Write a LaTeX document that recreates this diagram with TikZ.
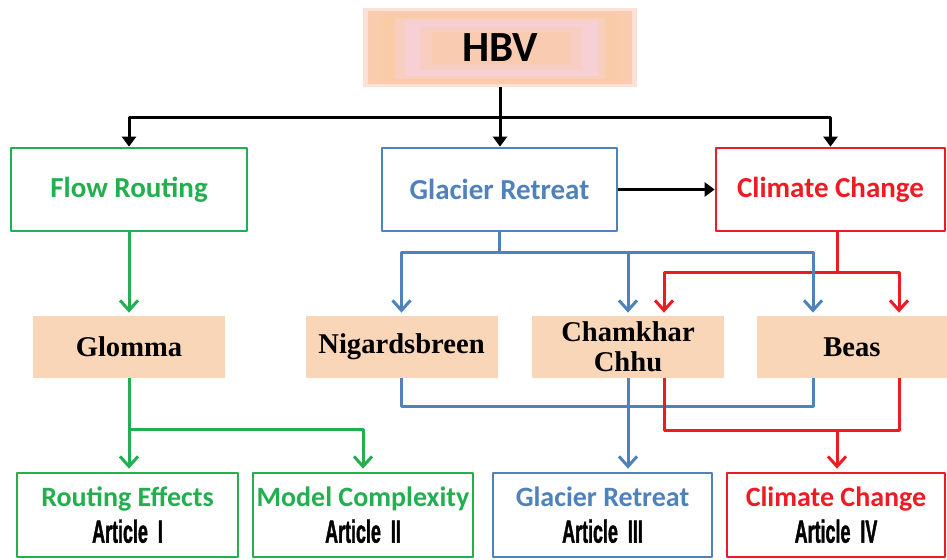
\documentclass[tikz,border=0pt]{standalone}
\usepackage{fontspec}
\setmainfont{Liberation Serif}
\newfontfamily\calfont{Carlito}
\newfontfamily\artfont[FakeStretch=0.56,FakeBold=1.2]{Liberation Sans}
\usepackage{tikz}
\usetikzlibrary{arrows.meta,calc}
\definecolor{hbvgreen}{RGB}{35,175,80}
\definecolor{hbvblue}{RGB}{79,129,189}
\definecolor{hbvred}{RGB}{237,28,36}
\definecolor{basintan}{RGB}{250,214,184}
\definecolor{hbvpink}{RGB}{247,208,214}
\definecolor{hbvorange}{RGB}{249,203,166}
\newcommand\artline[1]{{\artfont\bfseries\color{black}\fontsize{16}{16}\selectfont #1}}

\begin{document}
\begin{tikzpicture}[x=0.5pt,y=-0.5pt,line join=round,
  headbox/.style={draw,line width=1.35pt,fill=white,inner sep=0pt,minimum height=41.5pt,
    font=\calfont\bfseries\fontsize{14.5}{16}\selectfont},
  basin/.style={fill=basintan,inner sep=0pt,minimum width=96pt,minimum height=31pt,
    align=center,font=\bfseries\fontsize{14.3}{15}\selectfont},
  article/.style={draw,line width=1.35pt,fill=white,inner sep=0pt,minimum height=42pt,
    align=center,font=\calfont\bfseries\fontsize{14}{15}\selectfont},
  link/.style={line width=1.5pt},
  barb/.style={-{Straight Barb[length=5pt,width=9pt]},shorten >=1.5pt},
  blacktip/.style={-{Triangle[length=5pt,width=7pt]}}]
%\draw[help lines] (0,0) grid[step=50] (947,560);
\useasboundingbox (0,0) rectangle (947,560);

% HBV
\fill[hbvpink!50!hbvorange!60!white] (363,8) rectangle (637,87);
\fill[hbvorange!80!hbvpink] (368,11) rectangle (632,84);
\fill[hbvorange] (380,14) rectangle (620,81);
\fill[hbvorange!50!hbvpink] (395,18) rectangle (605,79);
\fill[hbvpink] (405,21) rectangle (598,76);
\fill[hbvorange!40!hbvpink] (420,27) rectangle (582,70);
\fill[hbvorange!75!hbvpink] (432,32) rectangle (570,64);
\node[font=\calfont\bfseries\fontsize{21.5}{21}\selectfont,inner sep=0pt,
  minimum width=137pt,minimum height=39.5pt] (hbv) at (500,47.5) {HBV};

\node[headbox,draw=hbvgreen,text=hbvgreen,minimum width=118pt] (flow) at (129,189.5) {Flow Routing};
\node[headbox,draw=hbvblue,text=hbvblue,minimum width=117.5pt] (glacier) at (499.5,189.5) {Glacier Retreat};
\node[headbox,draw=hbvred,text=hbvred,minimum width=114.5pt] (climate) at (830.5,189.5) {Climate Change};

\node[basin] (glomma) at (129,347) {Glomma};
\node[basin] (nigards) at (401.5,347) {Nigardsbreen};
\node[basin] (chamkhar) at (628,347) {Chamkhar\\Chhu};
\node[basin,minimum width=95pt] (beas) at (852,347) {Beas};

\node[article,draw=hbvgreen,text=hbvgreen,minimum width=110.5pt] (art1) at (127.5,515)
  {Routing Effects\\[3pt]\artline{Article\ \ I}};
\node[article,draw=hbvgreen,text=hbvgreen,minimum width=110pt] (art2) at (363,515)
  {Model Complexity\\[3pt]\artline{Article\ \ II}};
\node[article,draw=hbvblue,text=hbvblue,minimum width=109.5pt] (art3) at (602.5,515)
  {Glacier Retreat\\[3pt]\artline{Article\ \ III}};
\node[article,draw=hbvred,text=hbvred,minimum width=109pt] (art4) at (836,515)
  {Climate Change\\[3pt]\artline{Article\ \ IV}};

% black
\coordinate (top) at (500,118);
\draw[link,blacktip] (hbv.south) -- (hbv.south |- glacier.north);
\draw[link,blacktip] (top) -| (flow.north);
\draw[link,blacktip] (top) -| (climate.north);
\draw[link,blacktip] (glacier.east) -- (climate.west);

% green
\coordinate (gsplit) at (129,430);
\draw[link,hbvgreen,barb] (flow.south) -- (glomma.north);
\draw[link,hbvgreen,barb] (glomma.south) -- (glomma.south |- art1.north);
\draw[link,hbvgreen,barb] (gsplit) -| (art2.north);

% blue
\coordinate (bsplit) at (499.5,253);
\coordinate (bjoin) at (628,407);
\draw[link,hbvblue] (glacier.south) -- (bsplit);
\draw[link,hbvblue,barb] (bsplit) -| (nigards.north);
\draw[link,hbvblue,barb] (bsplit) -| (chamkhar.north);
\draw[link,hbvblue] (nigards.south) |- (bjoin) -| ($(beas.south)+(-39,0)$);
\draw[link,hbvblue,barb] (chamkhar.south) -- (chamkhar.south |- art3.north);

% red
\coordinate (rsplit) at (837,273);
\coordinate (rjoin) at (837,431);
\draw[link,hbvred] ($(climate.south)+(6.5,0)$) -- (rsplit);
\draw[link,hbvred,barb] (rsplit) -| ($(chamkhar.north)+(36,0)$);
\draw[link,hbvred,barb] (rsplit) -| ($(beas.north)+(47,0)$);
\draw[link,hbvblue,barb] (bsplit) -| ($(beas.north)+(-39,0)$);
\draw[link,hbvred] ($(chamkhar.south)+(36,0)$) |- (rjoin) -| ($(beas.south)+(47,0)$);
\draw[link,hbvred,barb] (rjoin) -- (rjoin |- art4.north);
\end{tikzpicture}
\end{document}
